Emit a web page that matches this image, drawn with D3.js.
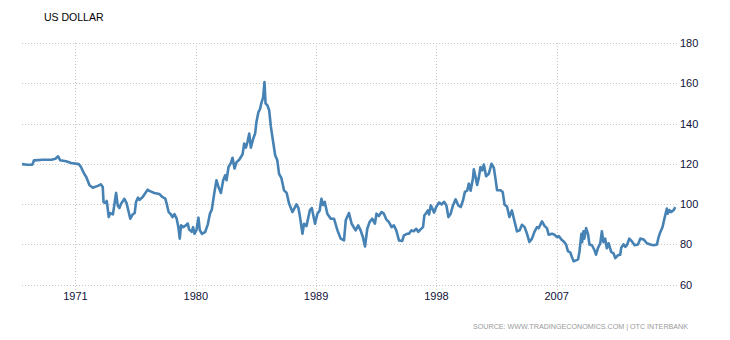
<!DOCTYPE html>
<html>
<head>
<meta charset="utf-8">
<script src="https://cdn.jsdelivr.net/npm/d3@7.9.0/dist/d3.min.js"></script>
<style>
  body { margin: 0; background: #fff; }
  text { font-family: "Liberation Sans", Arial, sans-serif; }
</style>
</head>
<body>
<svg id="chart" width="730" height="340"></svg>
<script>
const years = [
  1967.00, 1967.40, 1967.77, 1967.90, 1968.56, 1969.20, 1969.50, 1969.70, 1969.86, 1970.30,
  1970.68, 1971.25, 1971.40, 1971.67, 1971.80, 1972.05, 1972.30, 1972.67, 1972.90, 1973.04,
  1973.10, 1973.24, 1973.34, 1973.49, 1973.60, 1973.80, 1974.04, 1974.16, 1974.29, 1974.40,
  1974.66, 1974.83, 1974.98, 1975.10, 1975.28, 1975.43, 1975.53, 1975.68, 1975.78, 1976.03,
  1976.23, 1976.40, 1976.53, 1976.90, 1977.27, 1977.50, 1977.72, 1977.82, 1977.97, 1978.14,
  1978.26, 1978.40, 1978.57, 1978.70, 1978.80, 1978.90, 1979.06, 1979.26, 1979.40, 1979.50,
  1979.70, 1979.80, 1979.90, 1980.05, 1980.20, 1980.30, 1980.46, 1980.70, 1980.90, 1981.06,
  1981.20, 1981.38, 1981.55, 1981.70, 1981.88, 1982.05, 1982.20, 1982.30, 1982.45, 1982.63,
  1982.75, 1982.90, 1983.05, 1983.25, 1983.50, 1983.62, 1983.75, 1983.87, 1984.00, 1984.12,
  1984.30, 1984.44, 1984.54, 1984.69, 1984.80, 1984.90, 1985.04, 1985.14, 1985.22, 1985.36,
  1985.49, 1985.62, 1985.79, 1985.94, 1986.10, 1986.23, 1986.40, 1986.60, 1986.80, 1986.98,
  1987.23, 1987.53, 1987.68, 1987.80, 1987.98, 1988.10, 1988.28, 1988.53, 1988.68, 1988.92,
  1989.10, 1989.27, 1989.40, 1989.52, 1989.65, 1989.84, 1990.10, 1990.34, 1990.60, 1990.84,
  1991.09, 1991.22, 1991.46, 1991.66, 1991.96, 1992.15, 1992.33, 1992.50, 1992.66, 1992.83,
  1993.00, 1993.20, 1993.40, 1993.52, 1993.70, 1993.90, 1994.07, 1994.25, 1994.45, 1994.65,
  1994.82, 1995.00, 1995.20, 1995.44, 1995.57, 1995.80, 1995.94, 1996.14, 1996.30, 1996.50,
  1996.64, 1996.82, 1997.00, 1997.10, 1997.25, 1997.36, 1997.45, 1997.58, 1997.70, 1997.83,
  1998.00, 1998.20, 1998.40, 1998.57, 1998.75, 1998.90, 1999.07, 1999.24, 1999.44, 1999.64,
  1999.82, 2000.00, 2000.13, 2000.30, 2000.43, 2000.56, 2000.73, 2000.80, 2000.93, 2001.05,
  2001.17, 2001.30, 2001.43, 2001.55, 2001.72, 2001.92, 2002.12, 2002.30, 2002.42, 2002.54,
  2002.80, 2002.96, 2003.10, 2003.28, 2003.46, 2003.65, 2003.86, 2004.03, 2004.23, 2004.40,
  2004.60, 2004.78, 2004.96, 2005.15, 2005.35, 2005.53, 2005.65, 2005.90, 2006.10, 2006.27,
  2006.40, 2006.65, 2006.85, 2007.02, 2007.15, 2007.35, 2007.52, 2007.70, 2007.84, 2008.02,
  2008.14, 2008.27, 2008.44, 2008.60, 2008.70, 2008.85, 2008.90, 2009.00, 2009.07, 2009.20,
  2009.34, 2009.45, 2009.64, 2009.84, 2009.94, 2010.08, 2010.26, 2010.38, 2010.50, 2010.63,
  2010.75, 2010.88, 2011.08, 2011.25, 2011.38, 2011.57, 2011.75, 2011.83, 2012.00, 2012.13,
  2012.25, 2012.43, 2012.63, 2012.83, 2013.08, 2013.26, 2013.50, 2013.75, 2014.00, 2014.25,
  2014.50, 2014.62, 2014.75, 2014.92, 2015.07, 2015.24, 2015.31, 2015.42, 2015.57, 2015.75,
  2015.87
];
const values = [
  119.8, 119.5, 119.5, 121.7, 122.0, 122.0, 122.5, 123.7, 121.7, 121.2,
  120.4, 119.8, 118.5, 114.8, 113.5, 109.3, 108.1, 109.0, 109.8, 108.5,
  101.0, 100.5, 101.5, 93.5, 95.5, 94.8, 105.5, 99.3, 98.0, 100.0,
  102.6, 100.3, 96.0, 92.7, 94.8, 95.5, 101.0, 103.2, 102.0, 103.5,
  105.5, 107.1, 106.5, 105.5, 105.0, 103.5, 102.7, 100.2, 96.0, 94.8,
  93.5, 95.0, 92.7, 88.5, 82.8, 89.4, 88.5, 89.4, 90.3, 87.3,
  86.2, 88.5, 85.2, 87.0, 93.2, 87.0, 85.2, 86.0, 89.9, 95.2,
  97.2, 105.2, 111.8, 108.5, 105.5, 111.8, 114.3, 111.8, 118.4, 120.4,
  123.0, 117.6, 120.8, 122.0, 124.7, 130.0, 128.0, 130.8, 135.0, 128.0,
  132.5, 135.0, 140.8, 145.8, 147.0, 150.0, 153.0, 160.6, 150.0, 149.0,
  146.6, 138.3, 130.8, 124.2, 121.7, 115.0, 113.0, 106.8, 105.5, 100.2,
  96.0, 99.8, 98.0, 93.5, 85.2, 90.2, 89.0, 96.8, 98.0, 90.2,
  95.2, 96.8, 102.6, 99.5, 101.0, 95.2, 92.7, 92.7, 86.9, 82.8,
  81.9, 91.9, 95.5, 90.2, 86.9, 89.4, 86.9, 83.6, 78.9, 87.7,
  91.0, 92.7, 90.2, 95.2, 94.0, 96.0, 95.2, 92.4, 91.0, 88.5,
  89.4, 86.9, 81.9, 81.6, 84.4, 85.2, 85.2, 86.9, 86.5, 87.7,
  86.2, 87.4, 88.5, 94.3, 95.7, 96.8, 94.8, 99.3, 97.7, 95.7,
  98.8, 100.7, 99.8, 101.1, 99.3, 93.5, 95.2, 99.3, 102.3, 99.3,
  98.5, 102.0, 106.0, 106.6, 110.1, 106.6, 112.6, 117.2, 113.4, 109.5,
  113.0, 118.4, 116.7, 119.6, 113.8, 115.0, 120.0, 117.9, 112.6, 106.8,
  106.8, 106.0, 99.7, 98.8, 93.5, 96.8, 91.0, 86.4, 86.9, 89.7,
  88.5, 85.2, 81.1, 82.8, 86.4, 88.5, 88.0, 91.4, 89.0, 88.0,
  84.7, 85.2, 84.7, 83.5, 84.0, 82.4, 81.4, 79.9, 76.6, 75.9,
  73.6, 71.5, 72.0, 72.5, 76.2, 85.2, 81.0, 86.4, 82.8, 88.0,
  85.2, 79.9, 79.5, 76.9, 74.8, 78.0, 80.5, 86.4, 81.0, 82.8,
  78.0, 80.5, 76.2, 75.5, 73.1, 74.5, 74.8, 78.3, 80.0, 78.7,
  79.5, 82.8, 81.4, 79.5, 79.9, 82.8, 82.4, 80.5, 79.9, 79.5,
  79.9, 83.5, 86.0, 88.6, 93.0, 97.7, 95.2, 97.0, 96.0, 97.0,
  98.5
];
const xTicks = [1971, 1980, 1989, 1998, 2007];
const yTicks = [60, 80, 100, 120, 140, 160, 180];

const svg = d3.select('#chart');
const plotLeft = 22, plotRight = 677, plotTop = 43, plotBottom = 284.5;

const x = d3.scaleLinear().domain([1967, 2016]).range([plotLeft, plotRight]);
const y = d3.scaleLinear().domain([60, 180]).range([plotBottom, plotTop]);

// dotted grid
svg.append('g')
  .selectAll('line')
  .data(yTicks)
  .join('line')
  .attr('x1', plotLeft).attr('x2', plotRight + 2)
  .attr('y1', d => Math.round(y(d)) + 0.5).attr('y2', d => Math.round(y(d)) + 0.5)
  .attr('stroke', '#c8c8c8').attr('stroke-dasharray', '1,2');

svg.append('g')
  .selectAll('line')
  .data(xTicks)
  .join('line')
  .attr('x1', d => Math.round(x(d)) + 0.5).attr('x2', d => Math.round(x(d)) + 0.5)
  .attr('y1', plotTop).attr('y2', plotBottom + 6)
  .attr('stroke', '#c8c8c8').attr('stroke-dasharray', '1,2');

// y labels on the right
svg.append('g')
  .selectAll('text')
  .data(yTicks)
  .join('text')
  .attr('x', plotRight + 3)
  .attr('y', d => y(d) + 4)
  .attr('font-size', 11)
  .attr('fill', '#10103a')
  .text(d => d);

// x labels
svg.append('g')
  .selectAll('text')
  .data(xTicks)
  .join('text')
  .attr('x', d => x(d))
  .attr('y', 300)
  .attr('text-anchor', 'middle')
  .attr('font-size', 11)
  .attr('fill', '#10103a')
  .text(d => d);

const line = d3.line()
  .x((d, i) => x(years[i]))
  .y(d => y(d));

svg.append('path')
  .datum(values)
  .attr('d', line)
  .attr('fill', 'none')
  .attr('stroke', '#4682b4')
  .attr('stroke-width', 2.6)
  .attr('stroke-linejoin', 'round');

svg.append('text')
  .attr('x', 44).attr('y', 21)
  .attr('font-size', 10.5)
  .attr('fill', '#000')
  .text('US DOLLAR');

svg.append('text')
  .attr('x', 688).attr('y', 329)
  .attr('text-anchor', 'end')
  .attr('font-size', 8)
  .attr('fill', '#999')
  .attr('textLength', 215)
  .attr('lengthAdjust', 'spacingAndGlyphs')
  .text('SOURCE: WWW.TRADINGECONOMICS.COM | OTC INTERBANK');
</script>
</body>
</html>
